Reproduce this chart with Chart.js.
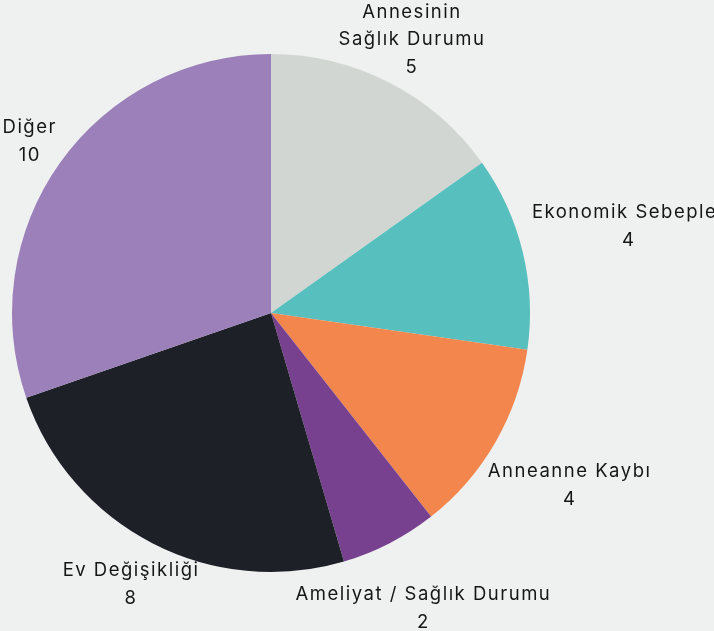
<!DOCTYPE html>
<html>
<head>
<meta charset="utf-8">
<script src="https://cdn.jsdelivr.net/npm/chart.js@4.4.1/dist/chart.umd.min.js"></script>
<style>
  html, body { margin: 0; padding: 0; background: #eff1f0; }
  #wrap { width: 714px; height: 631px; position: relative; }
</style>
</head>
<body>
<div id="wrap"><canvas id="c" width="714" height="631"></canvas></div>
<script>
const categories = [
  ["Annesinin", "Sağlık Durumu"],
  ["Ekonomik Sebepler"],
  ["Anneanne Kaybı"],
  ["Ameliyat / Sağlık Durumu"],
  ["Ev Değişikliği"],
  ["Diğer"]
];
const values = [5, 4, 4, 2, 8, 10];
const colors = ["#d1d6d3", "#57bfbe", "#f3864d", "#77418f", "#1e2028", "#9b80b9"];

const FONT = '18.5px Inter, "Open Sans", sans-serif';
const LINE_H = 27.5;

const outerLabels = {
  id: 'outerLabels',
  afterDatasetsDraw(chart) {
    const ctx = chart.ctx;
    const meta = chart.getDatasetMeta(0);
    const data = chart.data.datasets[0].data;
    ctx.save();
    ctx.font = FONT;
    if ('letterSpacing' in ctx) ctx.letterSpacing = '1.5px';
    ctx.fillStyle = '#161616';
    ctx.textAlign = 'center';
    ctx.textBaseline = 'middle';
    meta.data.forEach((arc, i) => {
      const p = arc.getProps(['x', 'y', 'startAngle', 'endAngle', 'outerRadius'], true);
      const mid = (p.startAngle + p.endAngle) / 2;
      const vx = Math.cos(mid), vy = Math.sin(mid);
      const lines = chart.data.labels[i].concat([String(data[i])]);
      let w = 0;
      lines.forEach(l => { w = Math.max(w, ctx.measureText(l).width); });
      const d = p.outerRadius + 15 + Math.abs(vx) * w / 2;
      const cx = p.x + vx * d, cy = p.y + vy * d;
      const n = lines.length;
      lines.forEach((l, k) => {
        ctx.fillText(l, cx, cy + (k - (n - 1) / 2) * LINE_H);
      });
    });
    ctx.restore();
  }
};

new Chart(document.getElementById('c'), {
  type: 'pie',
  data: {
    labels: categories,
    datasets: [{
      data: values,
      backgroundColor: colors,
      borderWidth: 0
    }]
  },
  options: {
    responsive: false,
    animation: false,
    layout: { padding: { left: 12, right: 184, top: 54, bottom: 59 } },
    plugins: {
      legend: { display: false },
      tooltip: { enabled: false }
    }
  },
  plugins: [outerLabels]
});
</script>
</body>
</html>
